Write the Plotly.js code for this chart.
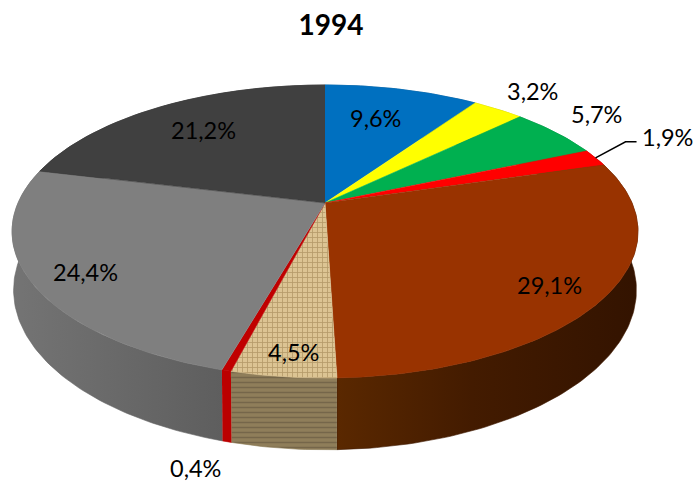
<!DOCTYPE html>
<html>
<head>
<meta charset="utf-8">
<script src="https://cdn.plot.ly/plotly-3.0.1.min.js"></script>
<style>html,body{margin:0;padding:0;background:#fff}#c{width:693px;height:482px}</style>
</head>
<body>
<div id="c"></div>
<script>
var titleText = '1994';
var shares = [9.6, 3.2, 5.7, 1.9, 29.1, 4.5, 0.4, 24.4, 21.2];
var topColors = ['#0070c0','#ffff00','#00b050','#ff0000','#993300','#d9c08f','#c00000','#7f7f7f','#404040'];
var sideColors = ['#00508a','#b5b500','#007a38','#b00000','#3f1900','#8a7853','#bb0000','#656565','#2c2c2c'];
var labelX = [375, 532, 596, 667, 549, 293, 195, 85, 203];
var labelY = [117.5, 90.5, 113.5, 136.5, 284.5, 351.5, 467.5, 271.5, 129.5];

// perspective projection of the tilted disc
var cx = 325, cy = 203, R = 307, S = 141, k = 0.1945, drop = 56, shrinkX = 0.995, stretchY = 1.09;
function project(frac, depth) {
  var a = 2 * Math.PI * frac, u = Math.sin(a), v = Math.cos(a), w = 1 + k * v;
  var bx = depth ? shrinkX : 1, by = depth ? stretchY : 1;
  return [cx + bx * R * u / w, cy + (depth ? drop : 0) - by * S * v / w];
}
function arc(f0, f1, depth) {
  var n = Math.max(2, Math.ceil((f1 - f0) * 360)), out = [];
  for (var i = 0; i <= n; i++) out.push(project(f0 + (f1 - f0) * i / n, depth));
  return out;
}
function poly(pts, color, extra) {
  var t = {
    type: 'scatter', mode: 'lines', hoverinfo: 'skip', showlegend: false,
    x: pts.map(function (p) { return p[0]; }), y: pts.map(function (p) { return p[1]; }),
    fill: 'toself', fillcolor: color, line: {color: color, width: 0.6}
  };
  for (var key in extra) t[key] = extra[key];
  return t;
}
var total = shares.reduce(function (a, b) { return a + b; }, 0);
var sides = [], tops = [], cum = 0, mids = [];
shares.forEach(function (val, i) {
  var f0 = cum / total, f1 = (cum + val) / total;
  cum += val;
  mids.push((f0 + f1) / 2);
  var sideExtra = {}, topExtra = {};
  if (i === 4) sideExtra.fillgradient = {type: 'horizontal', colorscale: [[0, '#5a2800'], [0.45, '#431b00'], [1, '#331300']]};
  if (i === 7) sideExtra.fillgradient = {type: 'horizontal', colorscale: [[0, '#747474'], [1, '#5e5e5e']]};
  if (i === 5) {
    topExtra.fillpattern = {shape: '+', fgcolor: '#b49a69', bgcolor: '#dcc493', size: 5, solidity: 0.3};
    sideExtra.fillpattern = {shape: '-', fgcolor: '#75664a', bgcolor: '#8f7e5a', size: 5, solidity: 0.3};
  }
  var outer = arc(f0, f1, false), lower = arc(f0, f1, true).reverse();
  sides.push(poly(outer.concat(lower), sideColors[i], sideExtra));
  tops.push(poly([[cx, cy]].concat(outer), topColors[i], topExtra));
});
// leader line of the small red slice
var anchor = project(mids[3], false);
var leader = {
  type: 'scatter', mode: 'lines', hoverinfo: 'skip', showlegend: false,
  x: [anchor[0], anchor[0] + 30, anchor[0] + 41], y: [anchor[1], anchor[1] - 16, anchor[1] - 16],
  line: {color: '#000', width: 1.5}
};
var annotations = shares.map(function (val, i) {
  return {
    x: labelX[i], y: labelY[i], xref: 'x', yref: 'y', showarrow: false,
    text: val.toFixed(1).replace('.', ',') + '%',
    font: {family: 'Lato, sans-serif', size: 23.5, color: '#000'}
  };
});
Plotly.newPlot('c', sides.concat(tops, [leader]), {
  width: 693, height: 482, margin: {l: 0, r: 0, t: 0, b: 0},
  paper_bgcolor: '#fff', plot_bgcolor: '#fff', showlegend: false,
  title: {text: '<b>' + titleText + '</b>', x: 331 / 693, xanchor: 'center', y: 1 - 25 / 482, yanchor: 'middle',
    font: {family: 'Lato, sans-serif', size: 28, color: '#000'}},
  xaxis: {range: [0, 693], visible: false, fixedrange: true},
  yaxis: {range: [482, 0], visible: false, fixedrange: true},
  annotations: annotations
}, {displayModeBar: false, staticPlot: true});
</script>
</body>
</html>
